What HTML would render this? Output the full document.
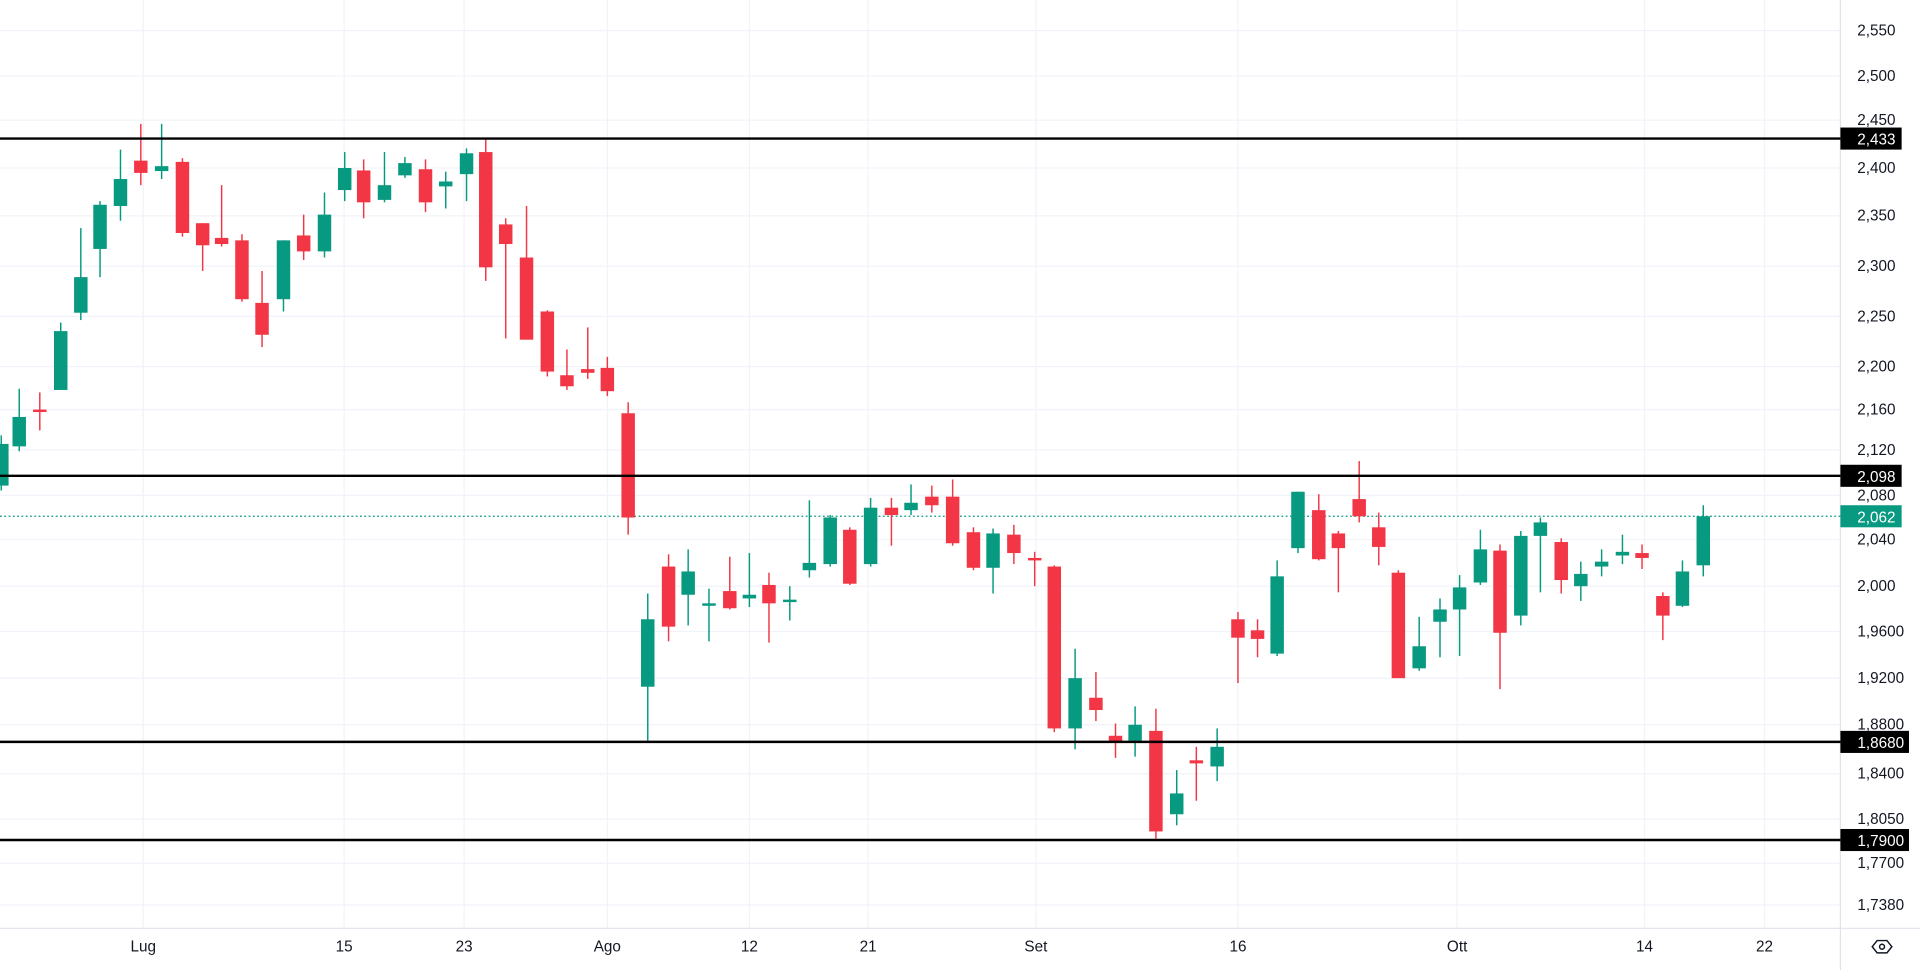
<!DOCTYPE html>
<html><head><meta charset="utf-8"><style>
html,body{margin:0;padding:0;background:#fff;overflow:hidden}
svg{display:block}
.g line{stroke:#089981;stroke-width:1.2}.g rect{fill:#089981}
.r line{stroke:#f23645;stroke-width:1.2}.r rect{fill:#f23645}
text{font-family:"Liberation Sans",sans-serif;font-size:12.5px;fill:#131722}
</style></head><body>
<svg width="1920" height="970" viewBox="0 0 1568 791" preserveAspectRatio="none">
<rect width="1568" height="791" fill="#fff"/>
<g stroke="#f0f3fa" stroke-width="1">
<line x1="117" y1="0" x2="117" y2="757"/><line x1="281" y1="0" x2="281" y2="757"/><line x1="379" y1="0" x2="379" y2="757"/><line x1="496" y1="0" x2="496" y2="757"/><line x1="612" y1="0" x2="612" y2="757"/><line x1="709" y1="0" x2="709" y2="757"/><line x1="846" y1="0" x2="846" y2="757"/><line x1="1011" y1="0" x2="1011" y2="757"/><line x1="1190" y1="0" x2="1190" y2="757"/><line x1="1343" y1="0" x2="1343" y2="757"/><line x1="1441" y1="0" x2="1441" y2="757"/>
<line x1="0" y1="25" x2="1503" y2="25"/><line x1="0" y1="62" x2="1503" y2="62"/><line x1="0" y1="98" x2="1503" y2="98"/><line x1="0" y1="137" x2="1503" y2="137"/><line x1="0" y1="176" x2="1503" y2="176"/><line x1="0" y1="217" x2="1503" y2="217"/><line x1="0" y1="258" x2="1503" y2="258"/><line x1="0" y1="299" x2="1503" y2="299"/><line x1="0" y1="334" x2="1503" y2="334"/><line x1="0" y1="367" x2="1503" y2="367"/><line x1="0" y1="404" x2="1503" y2="404"/><line x1="0" y1="440" x2="1503" y2="440"/><line x1="0" y1="478" x2="1503" y2="478"/><line x1="0" y1="515" x2="1503" y2="515"/><line x1="0" y1="553" x2="1503" y2="553"/><line x1="0" y1="591" x2="1503" y2="591"/><line x1="0" y1="631" x2="1503" y2="631"/><line x1="0" y1="668" x2="1503" y2="668"/><line x1="0" y1="704" x2="1503" y2="704"/><line x1="0" y1="738" x2="1503" y2="738"/>
</g>
<line x1="1503" y1="0" x2="1503" y2="791" stroke="#e0e3eb"/>
<line x1="0" y1="757" x2="1568" y2="757" stroke="#e0e3eb"/>
<line x1="0" y1="421" x2="1503" y2="421" stroke="#089981" stroke-dasharray="1.5 2"/>
<g class="g"><line x1="1" y1="355" x2="1" y2="400"/><rect x="-4" y="362" width="11" height="34"/></g>
<g class="g"><line x1="15.7" y1="317" x2="15.7" y2="368"/><rect x="10.2" y="340" width="11" height="24"/></g>
<g class="r"><line x1="32.5" y1="320" x2="32.5" y2="351"/><rect x="27" y="334" width="11" height="2"/></g>
<g class="g"><line x1="49.6" y1="263" x2="49.6" y2="318"/><rect x="44.1" y="270" width="11" height="48"/></g>
<g class="g"><line x1="66" y1="186" x2="66" y2="261"/><rect x="60.5" y="226" width="11" height="29"/></g>
<g class="g"><line x1="81.7" y1="164" x2="81.7" y2="226"/><rect x="76.2" y="167" width="11" height="36"/></g>
<g class="g"><line x1="98.4" y1="122" x2="98.4" y2="180"/><rect x="92.9" y="146" width="11" height="22"/></g>
<g class="r"><line x1="115" y1="101" x2="115" y2="151"/><rect x="109.5" y="131" width="11" height="10"/></g>
<g class="g"><line x1="132" y1="101" x2="132" y2="146"/><rect x="126.5" y="135.5" width="11" height="4"/></g>
<g class="r"><line x1="149" y1="129" x2="149" y2="193"/><rect x="143.5" y="132" width="11" height="58"/></g>
<g class="r"><line x1="165.5" y1="182" x2="165.5" y2="221"/><rect x="160" y="182" width="11" height="18"/></g>
<g class="r"><line x1="181" y1="151" x2="181" y2="201"/><rect x="175.5" y="194" width="11" height="5"/></g>
<g class="r"><line x1="197.6" y1="191" x2="197.6" y2="246"/><rect x="192.1" y="196" width="11" height="48"/></g>
<g class="r"><line x1="214" y1="221" x2="214" y2="283"/><rect x="208.5" y="247" width="11" height="26"/></g>
<g class="g"><line x1="231.5" y1="196" x2="231.5" y2="254"/><rect x="226" y="196" width="11" height="48"/></g>
<g class="r"><line x1="248" y1="175" x2="248" y2="212"/><rect x="242.5" y="192" width="11" height="13"/></g>
<g class="g"><line x1="265" y1="157" x2="265" y2="210"/><rect x="259.5" y="175" width="11" height="30"/></g>
<g class="g"><line x1="281.5" y1="124" x2="281.5" y2="164"/><rect x="276" y="137" width="11" height="18"/></g>
<g class="r"><line x1="297" y1="130" x2="297" y2="178"/><rect x="291.5" y="139" width="11" height="26"/></g>
<g class="g"><line x1="314" y1="124" x2="314" y2="165"/><rect x="308.5" y="151" width="11" height="12"/></g>
<g class="g"><line x1="330.7" y1="128" x2="330.7" y2="145"/><rect x="325.2" y="133" width="11" height="10"/></g>
<g class="r"><line x1="347.5" y1="130" x2="347.5" y2="173"/><rect x="342" y="138" width="11" height="27"/></g>
<g class="g"><line x1="364" y1="140" x2="364" y2="170"/><rect x="358.5" y="148" width="11" height="4"/></g>
<g class="g"><line x1="381" y1="121" x2="381" y2="164"/><rect x="375.5" y="125" width="11" height="17"/></g>
<g class="r"><line x1="396.7" y1="113" x2="396.7" y2="229"/><rect x="391.2" y="124" width="11" height="94"/></g>
<g class="r"><line x1="413" y1="178" x2="413" y2="276"/><rect x="407.5" y="183" width="11" height="16"/></g>
<g class="r"><line x1="430" y1="168" x2="430" y2="277"/><rect x="424.5" y="210" width="11" height="67"/></g>
<g class="r"><line x1="447" y1="253" x2="447" y2="307"/><rect x="441.5" y="254" width="11" height="49"/></g>
<g class="r"><line x1="463" y1="285" x2="463" y2="318"/><rect x="457.5" y="306" width="11" height="9"/></g>
<g class="r"><line x1="480" y1="267" x2="480" y2="309"/><rect x="474.5" y="301" width="11" height="3"/></g>
<g class="r"><line x1="496" y1="291" x2="496" y2="323"/><rect x="490.5" y="300" width="11" height="19"/></g>
<g class="r"><line x1="513" y1="328" x2="513" y2="436"/><rect x="507.5" y="337" width="11" height="85"/></g>
<g class="g"><line x1="529" y1="484" x2="529" y2="604"/><rect x="523.5" y="505" width="11" height="55"/></g>
<g class="r"><line x1="546" y1="452" x2="546" y2="523"/><rect x="540.5" y="462" width="11" height="49"/></g>
<g class="g"><line x1="562" y1="448" x2="562" y2="510"/><rect x="556.5" y="466" width="11" height="19"/></g>
<g class="g"><line x1="579" y1="480" x2="579" y2="523"/><rect x="573.5" y="492" width="11" height="2"/></g>
<g class="r"><line x1="596" y1="454" x2="596" y2="497"/><rect x="590.5" y="482" width="11" height="14"/></g>
<g class="g"><line x1="612" y1="451" x2="612" y2="495"/><rect x="606.5" y="485" width="11" height="3"/></g>
<g class="r"><line x1="628" y1="467" x2="628" y2="524"/><rect x="622.5" y="477" width="11" height="15"/></g>
<g class="g"><line x1="645" y1="478" x2="645" y2="506"/><rect x="639.5" y="489" width="11" height="2"/></g>
<g class="g"><line x1="661" y1="408" x2="661" y2="471"/><rect x="655.5" y="459" width="11" height="6"/></g>
<g class="g"><line x1="678" y1="420" x2="678" y2="462"/><rect x="672.5" y="422" width="11" height="38"/></g>
<g class="r"><line x1="694" y1="430" x2="694" y2="477"/><rect x="688.5" y="432" width="11" height="44"/></g>
<g class="g"><line x1="711" y1="406" x2="711" y2="462"/><rect x="705.5" y="414" width="11" height="46"/></g>
<g class="r"><line x1="728" y1="406" x2="728" y2="445"/><rect x="722.5" y="414" width="11" height="6"/></g>
<g class="g"><line x1="744" y1="395" x2="744" y2="420"/><rect x="738.5" y="410" width="11" height="6"/></g>
<g class="r"><line x1="761" y1="396" x2="761" y2="418"/><rect x="755.5" y="405" width="11" height="7"/></g>
<g class="r"><line x1="778" y1="391" x2="778" y2="445"/><rect x="772.5" y="405" width="11" height="38"/></g>
<g class="r"><line x1="795" y1="430" x2="795" y2="465"/><rect x="789.5" y="434" width="11" height="29"/></g>
<g class="g"><line x1="811" y1="431" x2="811" y2="484"/><rect x="805.5" y="435" width="11" height="28"/></g>
<g class="r"><line x1="828" y1="428" x2="828" y2="460"/><rect x="822.5" y="436" width="11" height="15"/></g>
<g class="r"><line x1="845" y1="450" x2="845" y2="478"/><rect x="839.5" y="455" width="11" height="2"/></g>
<g class="r"><line x1="861" y1="461" x2="861" y2="597"/><rect x="855.5" y="462" width="11" height="132"/></g>
<g class="g"><line x1="878" y1="529" x2="878" y2="611"/><rect x="872.5" y="553" width="11" height="41"/></g>
<g class="r"><line x1="895" y1="548" x2="895" y2="588"/><rect x="889.5" y="569" width="11" height="10"/></g>
<g class="r"><line x1="911" y1="590" x2="911" y2="618"/><rect x="905.5" y="600" width="11" height="5"/></g>
<g class="g"><line x1="927" y1="576" x2="927" y2="617"/><rect x="921.5" y="591" width="11" height="13"/></g>
<g class="r"><line x1="944" y1="578" x2="944" y2="684"/><rect x="938.5" y="596" width="11" height="82"/></g>
<g class="g"><line x1="961" y1="628" x2="961" y2="673"/><rect x="955.5" y="647" width="11" height="17"/></g>
<g class="r"><line x1="977" y1="609" x2="977" y2="653"/><rect x="971.5" y="620" width="11" height="2.5"/></g>
<g class="g"><line x1="994" y1="594" x2="994" y2="637"/><rect x="988.5" y="609" width="11" height="16"/></g>
<g class="r"><line x1="1011" y1="499" x2="1011" y2="557"/><rect x="1005.5" y="505" width="11" height="15"/></g>
<g class="r"><line x1="1027" y1="505" x2="1027" y2="536"/><rect x="1021.5" y="514" width="11" height="7"/></g>
<g class="g"><line x1="1043" y1="457" x2="1043" y2="535"/><rect x="1037.5" y="470" width="11" height="63"/></g>
<g class="g"><line x1="1060" y1="401" x2="1060" y2="451"/><rect x="1054.5" y="401" width="11" height="46"/></g>
<g class="r"><line x1="1077" y1="403" x2="1077" y2="457"/><rect x="1071.5" y="416" width="11" height="40"/></g>
<g class="r"><line x1="1093" y1="433" x2="1093" y2="483"/><rect x="1087.5" y="435" width="11" height="12"/></g>
<g class="r"><line x1="1110" y1="376" x2="1110" y2="426"/><rect x="1104.5" y="407" width="11" height="14"/></g>
<g class="r"><line x1="1126" y1="418" x2="1126" y2="461"/><rect x="1120.5" y="430" width="11" height="16"/></g>
<g class="r"><line x1="1142" y1="465" x2="1142" y2="553"/><rect x="1136.5" y="467" width="11" height="86"/></g>
<g class="g"><line x1="1159" y1="503" x2="1159" y2="547"/><rect x="1153.5" y="527" width="11" height="18"/></g>
<g class="g"><line x1="1176" y1="488" x2="1176" y2="536"/><rect x="1170.5" y="497" width="11" height="10"/></g>
<g class="g"><line x1="1192" y1="469" x2="1192" y2="535"/><rect x="1186.5" y="479" width="11" height="18"/></g>
<g class="g"><line x1="1209" y1="432" x2="1209" y2="477"/><rect x="1203.5" y="448" width="11" height="27"/></g>
<g class="r"><line x1="1225" y1="444" x2="1225" y2="562"/><rect x="1219.5" y="449" width="11" height="67"/></g>
<g class="g"><line x1="1242" y1="433" x2="1242" y2="510"/><rect x="1236.5" y="437" width="11" height="65"/></g>
<g class="g"><line x1="1258" y1="422" x2="1258" y2="483"/><rect x="1252.5" y="426" width="11" height="11"/></g>
<g class="r"><line x1="1275" y1="439" x2="1275" y2="484"/><rect x="1269.5" y="442" width="11" height="31"/></g>
<g class="g"><line x1="1291" y1="458" x2="1291" y2="490"/><rect x="1285.5" y="468" width="11" height="10"/></g>
<g class="g"><line x1="1308" y1="448" x2="1308" y2="470"/><rect x="1302.5" y="458" width="11" height="4"/></g>
<g class="g"><line x1="1325" y1="436" x2="1325" y2="460"/><rect x="1319.5" y="450" width="11" height="3"/></g>
<g class="r"><line x1="1341" y1="444" x2="1341" y2="464"/><rect x="1335.5" y="451" width="11" height="4"/></g>
<g class="r"><line x1="1358" y1="483" x2="1358" y2="522"/><rect x="1352.5" y="486" width="11" height="16"/></g>
<g class="g"><line x1="1374" y1="457" x2="1374" y2="495"/><rect x="1368.5" y="466" width="11" height="28"/></g>
<g class="g"><line x1="1391" y1="412" x2="1391" y2="470"/><rect x="1385.5" y="421" width="11" height="40"/></g>
<g stroke="#000" stroke-width="2">
<line x1="0" y1="113" x2="1503" y2="113"/><line x1="0" y1="388" x2="1503" y2="388"/><line x1="0" y1="605" x2="1503" y2="605"/><line x1="0" y1="685" x2="1503" y2="685"/>
</g>
<g text-anchor="end">
<text x="1548" y="29">2,550</text><text x="1548" y="66">2,500</text><text x="1548" y="102">2,450</text><text x="1548" y="141">2,400</text><text x="1548" y="180">2,350</text><text x="1548" y="221">2,300</text><text x="1548" y="262">2,250</text><text x="1548" y="303">2,200</text><text x="1548" y="338">2,160</text><text x="1548" y="371">2,120</text><text x="1548" y="408">2,080</text><text x="1548" y="444">2,040</text><text x="1548" y="482">2,000</text><text x="1555" y="519">1,9600</text><text x="1555" y="557">1,9200</text><text x="1555" y="595">1,8800</text><text x="1555" y="635">1,8400</text><text x="1555" y="672">1,8050</text><text x="1555" y="708">1,7700</text><text x="1555" y="742">1,7380</text>
</g>
<rect x="1503" y="104" width="50" height="18" fill="#000"/><text x="1548" y="118" text-anchor="end" fill="#fff" style="fill:#fff">2,433</text>
<rect x="1503" y="379" width="50" height="18" fill="#000"/><text x="1548" y="393" text-anchor="end" style="fill:#fff">2,098</text>
<rect x="1503" y="412" width="50" height="18" fill="#089981"/><text x="1548" y="426" text-anchor="end" style="fill:#fff">2,062</text>
<rect x="1503" y="596" width="56" height="18" fill="#000"/><text x="1555" y="610" text-anchor="end" style="fill:#fff">1,8680</text>
<rect x="1503" y="676" width="56" height="18" fill="#000"/><text x="1555" y="690" text-anchor="end" style="fill:#fff">1,7900</text>
<g text-anchor="middle">
<text x="117" y="776">Lug</text><text x="281" y="776">15</text><text x="379" y="776">23</text><text x="496" y="776">Ago</text><text x="612" y="776">12</text><text x="709" y="776">21</text><text x="846" y="776">Set</text><text x="1011" y="776">16</text><text x="1190" y="776">Ott</text><text x="1343" y="776">14</text><text x="1441" y="776">22</text>
</g>
<g fill="none" stroke="#131722" stroke-width="1.2"><path d="M1529 772 L1533 767 L1541 767 L1545 772 L1541 777 L1533 777 Z"/><circle cx="1537" cy="772" r="2"/></g>
</svg>
</body></html>
